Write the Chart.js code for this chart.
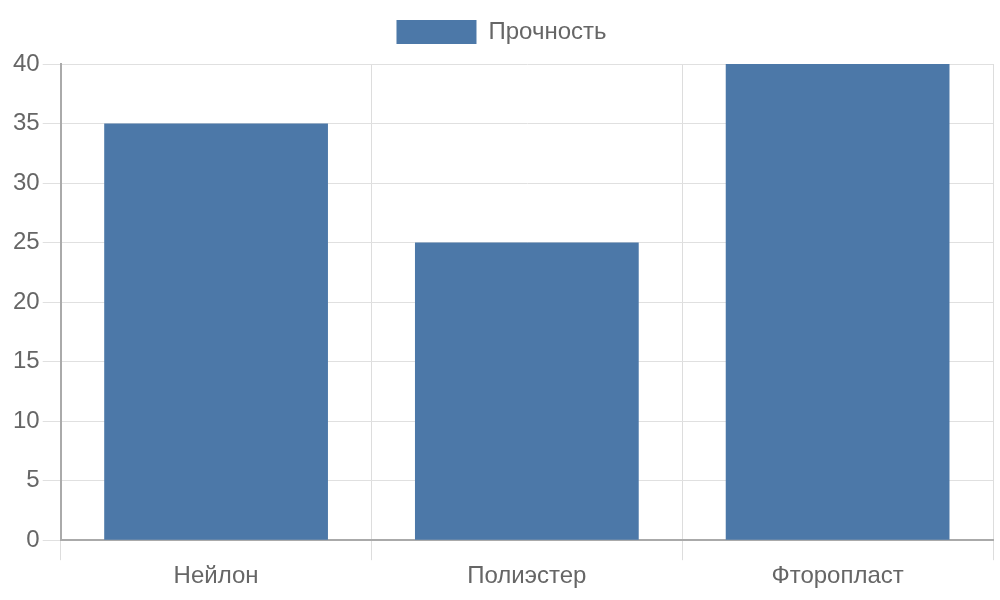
<!DOCTYPE html>
<html><head><meta charset="utf-8">
<script src="https://cdn.jsdelivr.net/npm/chart.js@4"></script>
<style>html,body{margin:0;padding:0;background:#fff}#w{width:1000px;height:600px}</style>
</head><body><div id="w"><canvas id="c"></canvas></div>
<script>
const categories = ["Нейлон", "Полиэстер", "Фторопласт"];
const strength = [35, 25, 40];
const seriesLabel = "Прочность";
Chart.defaults.font.family = "'Liberation Sans', Arial, sans-serif";
Chart.defaults.color = "#666";
const legendGap = {
  id: 'legendGap',
  beforeInit(chart) {
    const orig = chart.legend.fit;
    chart.legend.fit = function () { orig.call(this); this.height += 10; };
  }
};
new Chart(document.getElementById('c'), {
  type: 'bar',
  plugins: [legendGap],
  data: { labels: categories, datasets: [{ label: seriesLabel, data: strength, backgroundColor: '#4c78a8', borderColor: '#4c78a8', borderWidth: 0 }] },
  options: {
    responsive: true, maintainAspectRatio: false, animation: false,
    layout: { padding: { left: 10, right: 7, top: 10, bottom: 7 } },
    plugins: { legend: { labels: { boxWidth: 80, boxHeight: 24, font: { size: 24 }, padding: 10 } }, tooltip: { enabled: false } },
    scales: {
      x: { grid: { color: '#ddd', tickLength: 20 }, border: { color: '#aaa', width: 2 }, ticks: { font: { size: 24 }, padding: 2 } },
      y: { min: 0, max: 40, ticks: { stepSize: 5, font: { size: 24 }, padding: 3 }, grid: { color: '#e0e0e0', tickLength: 18 }, border: { color: '#aaa', width: 2 } }
    }
  }
});
</script></body></html>
